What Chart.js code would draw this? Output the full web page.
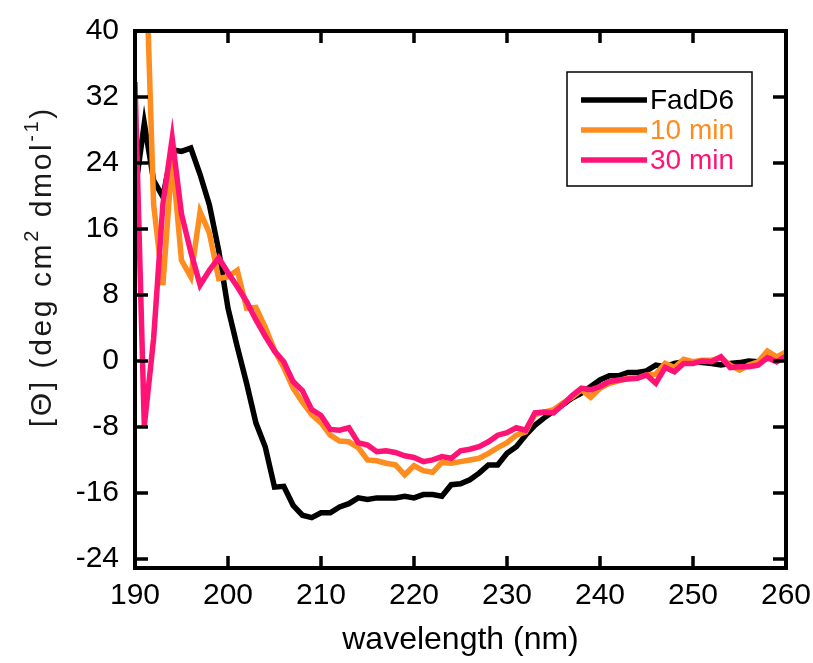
<!DOCTYPE html>
<html>
<head>
<meta charset="utf-8">
<script src="https://cdn.jsdelivr.net/npm/chart.js@4.4.1/dist/chart.umd.min.js"></script>
<style>
html,body{margin:0;padding:0;background:#ffffff;}
#wrap{width:813px;height:663px;position:relative;}
</style>
</head>
<body>
<div id="wrap"><canvas id="c" width="813" height="663"></canvas></div>
<script>
// ---- data ----
const wavelengths = [190,191,192,193,194,195,196,197,198,199,200,201,202,203,204,205,206,207,208,209,
  210,211,212,213,214,215,216,217,218,219,220,221,222,223,224,225,226,227,228,229,
  230,231,232,233,234,235,236,237,238,239,240,241,242,243,244,245,246,247,248,249,
  250,251,252,253,254,255,256,257,258,259,260];

const fadD6 = [20.5,28.8,21.9,19.9,25.6,25.4,25.8,22.6,18.9,13.4,6.4,1.7,-2.7,-7.5,-10.4,-15.3,-15.2,-17.5,-18.7,-19.0,
  -18.4,-18.4,-17.7,-17.3,-16.6,-16.8,-16.6,-16.6,-16.6,-16.4,-16.6,-16.2,-16.2,-16.4,-15.0,-14.9,-14.4,-13.6,-12.6,-12.6,
  -11.2,-10.4,-9.0,-7.8,-6.9,-6.1,-5.3,-4.5,-3.9,-3.1,-2.3,-1.8,-1.8,-1.4,-1.4,-1.2,-0.5,-0.7,-0.3,-0.1,
  -0.1,-0.2,-0.3,-0.5,-0.3,-0.2,0.0,-0.1,0.3,0.4,0.5];

const min10 = [40,55,19,9.2,24.7,12.2,10.2,18.1,15.5,10.0,10.2,11.0,6.4,6.5,4.1,1.3,-0.8,-3.3,-5.0,-6.5,
  -7.5,-9.0,-9.7,-9.8,-10.5,-12.0,-12.1,-12.4,-12.6,-13.8,-12.7,-13.3,-13.5,-12.3,-12.4,-12.2,-12.0,-11.8,-11.2,-10.5,
  -9.9,-9.0,-8.6,-6.5,-6.2,-5.9,-5.1,-4.4,-3.5,-4.4,-3.3,-2.7,-2.4,-2.1,-2.1,-1.7,-1.6,-0.3,-0.8,0.2,
  -0.1,0.1,0.1,0.4,-0.5,-1.1,-0.5,-0.1,1.2,0.5,1.1];

const min30 = [33.8,-7.9,2.7,19.0,27.0,17.8,13.2,9.2,11.0,12.5,10.7,9.0,7.2,5.0,3.0,1.2,-0.1,-2.5,-3.6,-5.9,
  -6.6,-8.3,-8.4,-8.1,-9.9,-10.2,-11.0,-10.9,-11.1,-11.5,-11.7,-12.2,-12.0,-11.6,-11.8,-10.9,-10.7,-10.4,-9.8,-9.0,
  -8.7,-8.1,-8.4,-6.3,-6.2,-6.3,-5.3,-4.2,-3.3,-3.5,-3.1,-2.5,-2.3,-2.2,-2.1,-1.7,-2.7,-0.8,-1.3,-0.3,
  -0.3,0.0,-0.1,0.5,-0.8,-0.7,-0.7,-0.5,0.4,-0.1,0.6];

const seriesNames = ['FadD6', '10 min', '30 min'];
const seriesColors = ['#000000', '#FF8C1E', '#FF1475'];

const xTickValues = [190,200,210,220,230,240,250,260];
const yTickValues = [-24,-16,-8,0,8,16,24,32,40];

const xAxisTitle = 'wavelength (nm)';
// y title pieces: [text, isSuperscript]
const yAxisTitleParts = [['[\u0398] (deg cm', false], ['2', true], [' dmol', false], ['-1', true], [')', false]];

const FONT = '"Liberation Sans", Arial, Helvetica, sans-serif';

// ---- plugins ----
const framePlugin = {
  id: 'frame',
  afterDatasetsDraw(chart) {
    const {ctx, chartArea: a, scales} = chart;
    ctx.save();
    ctx.strokeStyle = '#000';
    ctx.lineWidth = 4;
    ctx.lineCap = 'butt';
    ctx.strokeRect(a.left, a.top, a.right - a.left, a.bottom - a.top);
    ctx.lineWidth = 3.5;
    const tl = 12;
    ctx.beginPath();
    xTickValues.forEach(v => {
      const px = scales.x.getPixelForValue(v);
      ctx.moveTo(px, a.bottom); ctx.lineTo(px, a.bottom - tl);
      ctx.moveTo(px, a.top); ctx.lineTo(px, a.top + tl);
    });
    yTickValues.forEach(v => {
      const py = scales.y.getPixelForValue(v);
      ctx.moveTo(a.left, py); ctx.lineTo(a.left + tl + 1, py);
      ctx.moveTo(a.right, py); ctx.lineTo(a.right - tl - 1, py);
    });
    ctx.stroke();
    ctx.restore();
  }
};

const legendPlugin = {
  id: 'boxLegend',
  afterDraw(chart) {
    const {ctx} = chart;
    const box = {x: 567, y: 72, w: 185, h: 114};
    ctx.save();
    ctx.strokeStyle = '#000';
    ctx.lineWidth = 1.5;
    ctx.strokeRect(box.x, box.y, box.w, box.h);
    ctx.font = '28px ' + FONT;
    ctx.textBaseline = 'middle';
    ctx.textAlign = 'left';
    chart.data.datasets.forEach((ds, i) => {
      const y = box.y + 28 + i * 30;
      ctx.strokeStyle = ds.borderColor;
      ctx.lineWidth = 5.5;
      ctx.beginPath();
      ctx.moveTo(box.x + 14, y);
      ctx.lineTo(box.x + 80, y);
      ctx.stroke();
      ctx.fillStyle = ds.borderColor;
      ctx.fillText(ds.label, box.x + 83, y + 1);
    });
    ctx.restore();
  }
};

const yTitlePlugin = {
  id: 'yTitle',
  afterDraw(chart) {
    const {ctx} = chart;
    const big = '30px ' + FONT, small = '20px ' + FONT;
    const gap = 2.6;   // extra spacing between glyphs, as in the reference
    ctx.save();
    const glyphs = [];
    yAxisTitleParts.forEach(([t, sup]) => {
      ctx.font = sup ? small : big;
      for (const ch of t) glyphs.push({ch, sup, w: ctx.measureText(ch).width + gap});
    });
    const total = glyphs.reduce((s, g) => s + g.w, 0) - gap;
    ctx.translate(51, 268);
    ctx.rotate(-Math.PI / 2);
    ctx.fillStyle = '#1a1a1a';
    ctx.textBaseline = 'alphabetic';
    ctx.textAlign = 'left';
    let x = -total / 2;
    glyphs.forEach(g => {
      ctx.font = g.sup ? small : big;
      ctx.fillText(g.ch, x, g.sup ? -13 : 0);
      x += g.w;
    });
    ctx.restore();
  }
};

const mk = (i, data, order) => ({
  label: seriesNames[i],
  data: data,
  borderColor: seriesColors[i],
  backgroundColor: seriesColors[i],
  borderWidth: 5.5,
  pointRadius: 0,
  tension: 0,
  fill: false,
  order: order
});

new Chart(document.getElementById('c'), {
  type: 'line',
  data: {
    datasets: [
      mk(0, wavelengths.map((w, k) => ({x: w, y: fadD6[k]})), 3),
      mk(1, wavelengths.map((w, k) => ({x: w, y: min10[k]})), 2),
      mk(2, wavelengths.map((w, k) => ({x: w, y: min30[k]})), 1)
    ]
  },
  options: {
    responsive: false,
    animation: false,
    devicePixelRatio: 1,
    layout: {padding: {top: 31, right: 27, left: 0, bottom: 0}},
    plugins: {legend: {display: false}, tooltip: {enabled: false}},
    scales: {
      x: {
        type: 'linear',
        min: 190, max: 260,
        afterBuildTicks: s => { s.ticks = xTickValues.map(v => ({value: v})); },
        afterFit: s => { s.height = 95; s.paddingLeft = 0; s.paddingRight = 0; },
        grid: {display: false, drawTicks: false},
        border: {display: false},
        ticks: {color: '#000', font: {family: FONT, size: 30}, padding: 10, maxRotation: 0, autoSkip: false},
        title: {display: true, text: xAxisTitle, color: '#000', font: {family: FONT, size: 32}, padding: {top: 0, bottom: 4}}
      },
      y: {
        type: 'linear',
        min: -25.1, max: 40,
        afterBuildTicks: s => { s.ticks = yTickValues.map(v => ({value: v})); },
        afterFit: s => { s.width = 135; s.paddingTop = 0; s.paddingBottom = 0; },
        grid: {display: false, drawTicks: false},
        border: {display: false},
        ticks: {color: '#000', font: {family: FONT, size: 30}, padding: 16, autoSkip: false},
        title: {display: false}
      }
    }
  },
  plugins: [framePlugin, legendPlugin, yTitlePlugin]
});
</script>
</body>
</html>
